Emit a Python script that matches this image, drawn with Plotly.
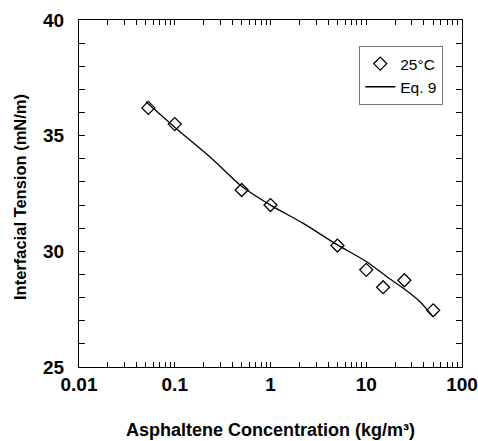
import plotly.graph_objects as go

# Measured interfacial tension at 25 °C
conc = [0.053, 0.10, 0.50, 1.0, 5.0, 10.0, 15.0, 25.0, 50.0]
tension = [36.2, 35.5, 32.65, 32.0, 30.25, 29.2, 28.45, 28.75, 27.45]

# Eq. 9 model curve
conc_fit = [0.05, 0.1135, 0.253, 0.48, 1.0, 2.2, 4.9, 10.1, 16.4, 24.4, 36.4, 48.0]
tension_fit = [36.47, 35.17, 33.95, 32.87, 32.0, 31.21, 30.3, 29.55, 28.9, 28.4, 27.82, 27.25]

# Decade labels plus unlabeled intermediate log ticks
x_major = [0.01, 0.1, 1, 10, 100]
x_major_text = ["0.01", "0.1", "1", "10", "100"]
x_minor = [m * d for d in (0.01, 0.1, 1, 10) for m in range(2, 10)]
x_ticks = x_major + x_minor
x_ticktext = x_major_text + [""] * len(x_minor)
y_ticks = [25, 30, 35, 40]

FONT = "Liberation Sans, Arial, sans-serif"

fig = go.Figure()
fig.add_trace(go.Scatter(
    x=conc, y=tension, mode="markers", name="25°C",
    marker=dict(symbol="diamond-open", size=10, color="black",
                line=dict(width=1.3, color="black")),
))
fig.add_trace(go.Scatter(
    x=conc_fit, y=tension_fit, mode="lines", name="Eq. 9",
    line=dict(color="black", width=1.3, shape="spline", smoothing=0.8),
))

fig.update_layout(
    width=478, height=441,
    margin=dict(l=79, r=16, t=20, b=74),
    paper_bgcolor="white", plot_bgcolor="white",
    font=dict(family=FONT, color="black"),
    showlegend=True,
    legend=dict(
        x=0.951, y=0.925, xanchor="right", yanchor="top",
        bordercolor="#777", borderwidth=1, bgcolor="white",
        font=dict(size=15.5, family=FONT),
        itemwidth=30, tracegroupgap=0,
    ),
    xaxis=dict(
        type="log", range=[-2, 2], automargin=False,
        tickmode="array", tickvals=x_ticks, ticktext=x_ticktext,
        ticks="inside", ticklen=5, tickwidth=1, tickcolor="black",
        showline=True, linecolor="black", linewidth=1.2, mirror="allticks",
        showgrid=False, zeroline=False,
        tickfont=dict(size=19, family=FONT, weight="bold"),
    ),
    yaxis=dict(
        range=[25, 40], automargin=False,
        tickvals=y_ticks,
        ticks="inside", ticklen=6, tickwidth=1, tickcolor="black",
        minor=dict(dtick=1, ticks="inside", ticklen=6, tickwidth=1,
                   tickcolor="black", showgrid=False),
        showline=True, linecolor="black", linewidth=1.2, mirror="allticks",
        showgrid=False, zeroline=False,
        tickfont=dict(size=19, family=FONT, weight="bold"),
        ticklabelstandoff=10,
    ),
    annotations=[
        dict(text="<b>Asphaltene Concentration (kg/m³)</b>",
             xref="paper", yref="paper", x=0.5, y=-0.181,
             xanchor="center", yanchor="middle", showarrow=False,
             font=dict(size=18, family=FONT)),
        dict(text="<b>Interfacial Tension (mN/m)</b>", textangle=-90,
             xref="paper", yref="paper", x=-0.154, y=0.49,
             xanchor="center", yanchor="middle", showarrow=False,
             font=dict(size=16.5, family=FONT)),
    ],
)

fig.write_html("out.html")
